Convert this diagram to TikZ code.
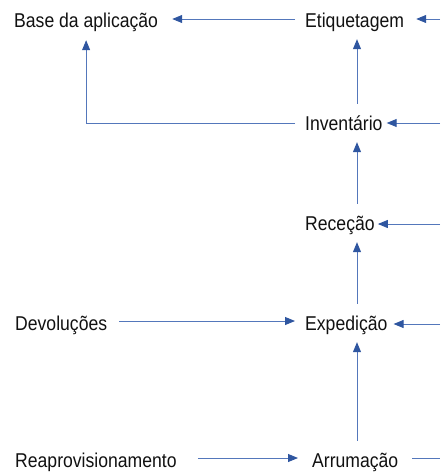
\documentclass[tikz,border=0pt]{standalone}
\usepackage{fontspec}
\setmainfont[FakeStretch=0.88]{Liberation Sans}
\usetikzlibrary{arrows.meta,calc}
\definecolor{linec}{HTML}{5477BB}
\definecolor{tipc}{HTML}{2F56A0}
\definecolor{txt}{HTML}{111111}
\begin{document}
\begin{tikzpicture}[x=1pt,y=1pt,
  lbl/.style={anchor=base west,inner sep=0pt,text height=14pt,text depth=4pt,
    font=\fontsize{20}{24}\selectfont,text=txt},
  arw/.style={draw=linec,line width=0.9pt,
    -{Triangle[length=10pt,width=8pt,color=tipc,fill=tipc]}},
  vup/.style={arw,shorten <=12pt,shorten >=8pt}]
\useasboundingbox (0,0) rectangle (440,-472);
\node[lbl] (base) at (14,-27) {Base da aplicação};
\node[lbl] (etiq) at (305,-27) {Etiquetagem};
\node[lbl] (inv)  at (305,-130) {Inventário};
\node[lbl] (rec)  at (305,-230) {Receção};
\node[lbl] (dev)  at (15,-330) {Devoluções};
\node[lbl] (exped)  at (305,-330) {Expedição};
\node[lbl] (rea)  at (15,-467) {Reaprovisionamento};
\node[lbl] (arrum)  at (312,-467) {Arrumação};
\coordinate (col) at (357,0);
\coordinate (rE) at (440,-19);
\coordinate (rI) at (440,-123);
\coordinate (rR) at (440,-224);
\coordinate (rX) at (440,-324);
\coordinate (rA) at (440,-458);
% horizontal
\draw[arw] ([xshift=-10pt,yshift=8pt]etiq.base west) -- ([xshift=14pt,yshift=8pt]base.base east);
\draw[arw] (rE) -- ([xshift=12pt,yshift=8pt]etiq.base east);
\draw[arw] ([xshift=-10pt,yshift=7pt]inv.base west) -| ([yshift=-9pt]base.south);
\draw[arw] (rI) -- ([xshift=4pt,yshift=7pt]inv.base east);
\draw[arw] (rR) -- ([xshift=3pt,yshift=6pt]rec.base east);
\draw[arw] (rX) -- ([xshift=6pt,yshift=6pt]exped.base east);
\draw[arw] ([xshift=12pt,yshift=9pt]dev.base east) -- ([xshift=-10pt,yshift=9pt]exped.base west);
\draw[arw] ([xshift=21pt,yshift=9pt]rea.base east) -- ([xshift=-14pt,yshift=9pt]arrum.base west);
\draw[draw=linec,line width=0.9pt] ([xshift=14pt,yshift=9pt]arrum.base east) -- (rA);
% vertical
\draw[vup] (inv.north -| col) -- (etiq.south -| col);
\draw[vup] (rec.north -| col) -- (inv.south -| col);
\draw[vup] (exped.north -| col) -- (rec.south -| col);
\draw[vup] (arrum.north -| col) -- (exped.south -| col);
\end{tikzpicture}
\end{document}
